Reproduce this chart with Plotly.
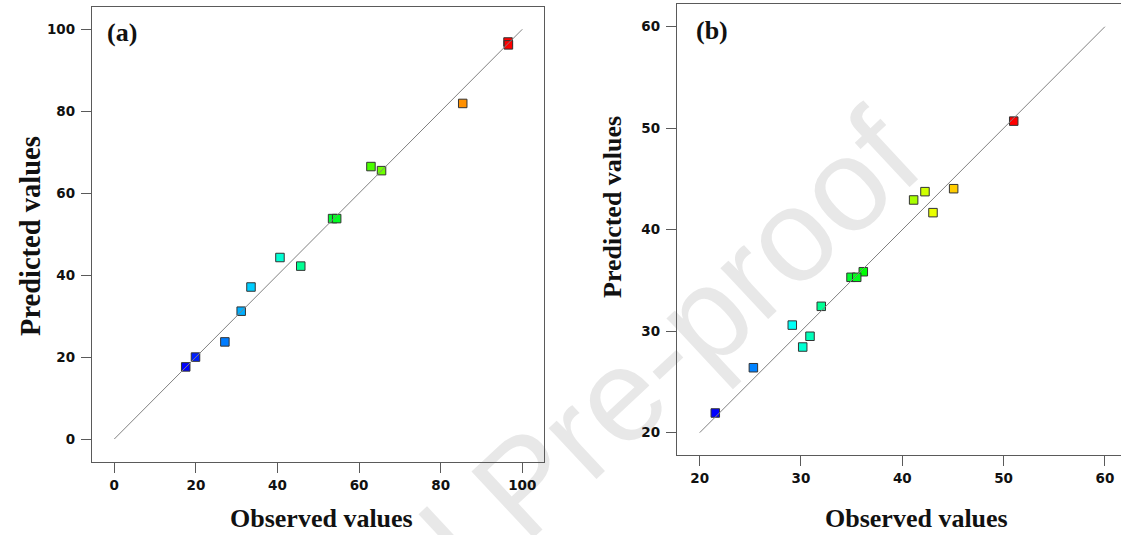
import plotly.graph_objects as go

# ---- data: panel (a) ----
obs_a = [96.5, 96.6, 85.4, 62.9, 65.5, 53.5, 54.5, 40.6, 45.7, 33.5, 31.1, 27.1, 19.9, 17.5]
pred_a = [96.9, 96.2, 81.9, 66.5, 65.5, 53.8, 53.8, 44.3, 42.2, 37.1, 31.2, 23.7, 20.0, 17.6]
ref_a = [0, 100]
ticks_a = [0, 20, 40, 60, 80, 100]

# ---- data: panel (b) ----
obs_b = [51.0, 45.07, 42.24, 41.12, 43.03, 36.15, 34.94, 35.5, 32.0, 29.14, 30.89, 30.17, 25.3, 21.54]
pred_b = [50.7, 44.04, 43.75, 42.93, 41.68, 35.86, 35.31, 35.31, 32.45, 30.6, 29.5, 28.44, 26.4, 21.94]
ref_b = [20, 60]
ticks_b = [20, 30, 40, 50, 60]

W, H = 1121, 535
rainbow = [[0, "#0000ff"], [0.25, "#00ffff"], [0.5, "#00ff00"], [0.75, "#ffff00"], [1, "#ff0000"]]

fig = go.Figure()

def add_panel(obs, pred, ref, xa, ya):
    fig.add_trace(go.Scatter(
        x=obs, y=pred, mode="markers", xaxis=xa, yaxis=ya,
        marker=dict(symbol="square", size=8.5, color=obs, colorscale=rainbow,
                    line=dict(color="#333333", width=1)),
        showlegend=False, hoverinfo="x+y"))
    fig.add_trace(go.Scatter(
        x=ref, y=ref, mode="lines", xaxis=xa, yaxis=ya,
        line=dict(color="#808080", width=1), showlegend=False, hoverinfo="skip"))

add_panel(obs_a, pred_a, ref_a, "x", "y")
add_panel(obs_b, pred_b, ref_b, "x2", "y2")

def px_x(p):
    return p / W

def px_y(p):
    return 1 - p / H

tickfont = dict(family="DejaVu Sans", size=13.5, color="#111111", weight="bold")
axis_common = dict(showline=True, linecolor="#5a5a5a", linewidth=1.3, mirror=True,
                   ticks="outside", ticklen=10, tickcolor="#5a5a5a", tickwidth=1,
                   showgrid=False, zeroline=False, tickfont=tickfont, fixedrange=True)

fig.update_layout(
    width=W, height=H, margin=dict(l=0, r=0, t=0, b=0),
    paper_bgcolor="white", plot_bgcolor="rgba(0,0,0,0)",
    xaxis=dict(domain=[px_x(92), px_x(544)], range=[-5.47, 105.32], tickvals=ticks_a,
               anchor="y", ticklabelstandoff=1, **axis_common),
    yaxis=dict(domain=[px_y(462), px_y(7)], range=[-5.61, 105.44], tickvals=ticks_a,
               anchor="x", ticklabelstandoff=3, **axis_common),
    xaxis2=dict(domain=[px_x(677), 1.0], range=[17.76, 61.59], tickvals=ticks_b,
                anchor="y2", ticklabelstandoff=1, **axis_common),
    yaxis2=dict(domain=[px_y(455), px_y(4)], range=[17.80, 62.24], tickvals=ticks_b,
                anchor="x2", ticklabelstandoff=3, **axis_common),
)

serif_bold = dict(family="Liberation Serif, Times New Roman", color="#111111", weight="bold")

def label(text, cx, cy, size, angle=0):
    fig.add_annotation(text=text, x=px_x(cx), y=px_y(cy), xref="paper", yref="paper",
                       showarrow=False, textangle=angle, xanchor="center", yanchor="middle",
                       font=dict(size=size, **serif_bold))

label("Observed values", 321, 518, 26)
label("Observed values", 916, 518, 26)
label("Predicted values", 31, 236, 28.5, -90)
label("Predicted values", 612, 207, 26, -90)
label("(a)", 122, 33, 26)
label("(b)", 712, 30, 26)

# light diagonal watermark beneath the data
cx, cy = 515, 475
fig.add_shape(type="rect", xref="paper", yref="paper",
              x0=px_x(cx - 10), x1=px_x(cx + 10), y0=px_y(cy + 10), y1=px_y(cy - 10),
              line=dict(width=0), fillcolor="rgba(0,0,0,0)", layer="below",
              label=dict(text="Journal Pre-proof", textangle=-43, textposition="middle center",
                         font=dict(family="Liberation Sans, Arial", size=132, color="#e8e8e8")))

fig.write_html("out.html")
